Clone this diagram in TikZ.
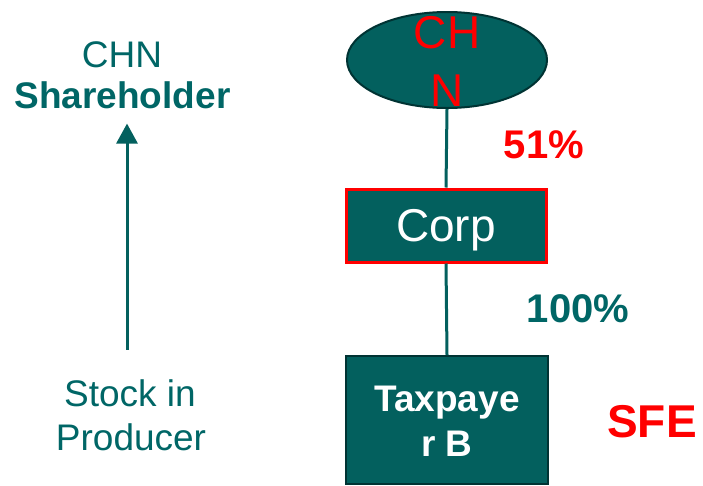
\documentclass[tikz,border=0pt]{standalone}
\usepackage{fontspec}
\setmainfont{Liberation Sans}
\usepackage{tikz}
\usetikzlibrary{shapes.geometric,arrows.meta}
\definecolor{tealfill}{RGB}{3,96,94}
\definecolor{tealtext}{RGB}{0,102,102}
\definecolor{darkedge}{RGB}{0,51,51}
\tikzset{entity/.style={draw=darkedge, line width=2pt, fill=tealfill, inner sep=0pt}}
\tikzset{owns/.style={draw=tealfill, line width=3pt}}
\tikzset{pct/.style={font=\fontsize{40}{48}\selectfont\bfseries, anchor=base, inner sep=0pt}}
\tikzset{side/.style={text=tealtext, font=\fontsize{37}{44}\selectfont, anchor=base, inner sep=0pt}}

\begin{document}
\begin{tikzpicture}[x=1pt, y=-1pt]
\useasboundingbox (0,0) rectangle (703,485);

\node[entity, ellipse, minimum width=200pt, minimum height=96pt,
  label={[text=red, align=center, inner sep=0pt, yshift=-1.5pt,
  font=\fontsize{46}{58}\selectfont]center:CH\\N}] (chn) at (447,60) {};
\node[entity, rectangle, draw=red, line width=3pt, minimum width=200pt, minimum height=73pt,
  label={[text=white, inner sep=0pt, yshift=-5pt,
  font=\fontsize{46}{56}\selectfont]center:Corp}] (corp) at (446,225.5) {};
\node[entity, rectangle, minimum width=202pt, minimum height=128pt,
  label={[text=white, align=center, inner sep=0pt, yshift=-1.5pt,
  font=\fontsize{37}{45}\selectfont\bfseries]center:Taxpaye\\r B}] (taxb) at (447,420) {};

\draw[owns] (chn.south) -- (corp.north);
\draw[owns] (corp.south) -- (taxb.north);

\node[pct, text=red] (pctcorp) at (544,158) {51\%};
\node[pct, text=tealtext] (pcttax) at (578,322) {100\%};
\node[pct, text=red, font=\fontsize{46}{54}\selectfont\bfseries] (sfe) at (652,437) {SFE};

\node[side] (chnlbl) at (122,67) {CHN};
\node[side, font=\fontsize{37}{44}\selectfont\bfseries] (share) at (122.5,108) {Shareholder};
\node[side] (stock) at (130,406) {Stock in};
\node[side] (producer) at (131,450) {Producer};

\draw[owns, -{Triangle[width=21pt,length=20pt]}, shorten <=29pt, shorten >=15pt]
  (stock.north -| 127,0) -- (share.south -| 127,0);
\end{tikzpicture}
\end{document}
